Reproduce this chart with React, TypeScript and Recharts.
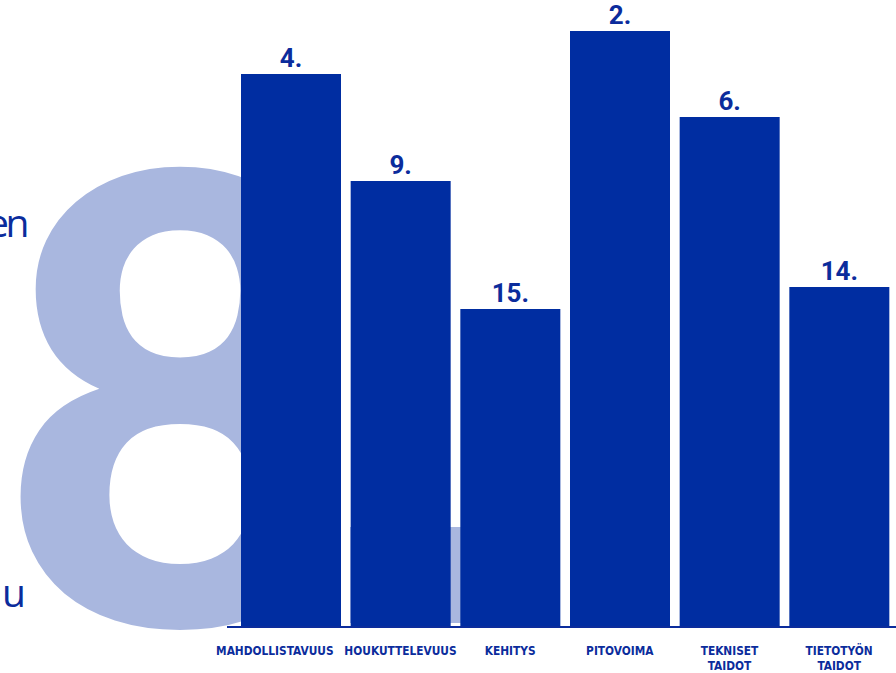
import React from 'react';
import { BarChart, Bar, XAxis, YAxis, LabelList } from 'recharts';

const categories = ['MAHDOLLISTAVUUS', 'HOUKUTTELEVUUS', 'KEHITYS', 'PITOVOIMA', 'TEKNISET\nTAIDOT', 'TIETOTYÖN\nTAIDOT'];
const values = [553, 446, 318, 596, 510, 340];
const ranks = ['4.', '9.', '15.', '2.', '6.', '14.'];

const data = categories.map((c, i) => ({ name: c, value: values[i], rank: ranks[i] }));

const DARK = '#002DA1';
const TEXT = '#0B2C9C';
const LIGHT = '#A9B7DF';

const Tick = (props: any) => {
  const { x, y, payload, index } = props;
  const lines = String(payload.value).split('\n');
  const dx = index === 0 ? -16 : 0;
  return (
    <g>
      {lines.map((l: string, i: number) => (
        <text
          key={i}
          x={x + dx}
          y={y + 20 + i * 15}
          textAnchor="middle"
          fontFamily="'DejaVu Sans Condensed', 'DejaVu Sans'"
          fontWeight="bold"
          fontSize={11.8}
          fill={TEXT}
        >
          {l}
        </text>
      ))}
    </g>
  );
};

export default function App() {
  return (
    <div style={{ position: 'absolute', left: 0, top: 0, width: 896, height: 673, background: '#fff', overflow: 'hidden' }}>
      <svg width={896} height={673} style={{ position: 'absolute', left: 0, top: 0 }}>
        <rect x={350} y={527} width={112} height={96} fill={LIGHT} />
        <text
          x={180}
          y={625}
          textAnchor="middle"
          fontFamily="Lato, 'Open Sans', sans-serif"
          fontWeight={900}
          fontSize={625}
          fill={LIGHT}
        >
          8
        </text>
        <text x={-13} y={237} fontFamily="'Open Sans', sans-serif" fontSize={39} letterSpacing={-3.5} fill={TEXT}>en</text>
        <text x={2} y={607} fontFamily="'Open Sans', sans-serif" fontSize={39} fill={TEXT}>u</text>
      </svg>
      <div style={{ position: 'absolute', left: 0, top: 0 }}>
        <BarChart width={896} height={673} data={data} margin={{ top: 27, right: 0, left: 227, bottom: 0 }}>
          <YAxis hide domain={[0, 600]} />
          <XAxis
            dataKey="name"
            height={46}
            padding={{ left: 9, right: 2 }}
            axisLine={{ stroke: TEXT, strokeWidth: 2 }}
            tickLine={false}
            interval={0}
            tick={<Tick />}
          />
          <Bar dataKey="value" fill={DARK} barSize={100} isAnimationActive={false}>
            <LabelList
              dataKey="rank"
              position="top"
              offset={7}
              fill={TEXT}
              fontFamily="Roboto, sans-serif"
              fontWeight="bold"
              fontSize={26}
            />
          </Bar>
        </BarChart>
      </div>
    </div>
  );
}
